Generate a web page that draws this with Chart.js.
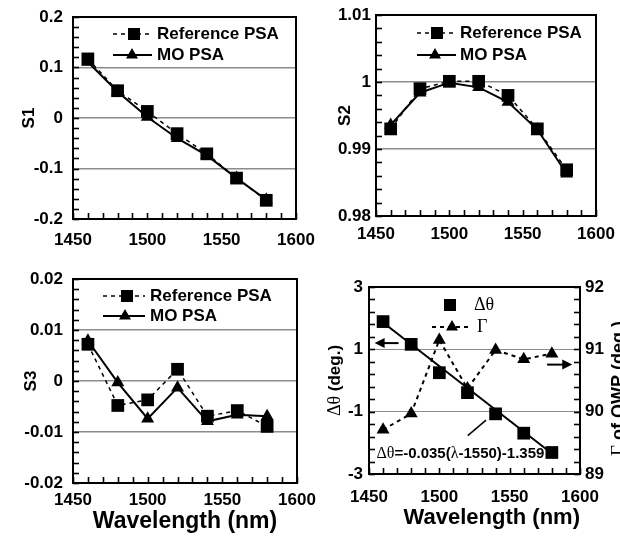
<!DOCTYPE html>
<html><head><meta charset="utf-8">
<script src="https://cdn.jsdelivr.net/npm/chart.js@4.4.1/dist/chart.umd.min.js"></script>
<style>
html,body{margin:0;padding:0;background:#fff;}
#wrap{position:relative;width:620px;height:537px;overflow:hidden;background:#fff;}
canvas{position:absolute;}
</style></head><body>
<div id="wrap">
<canvas id="c1" width="330" height="260" style="left:0;top:0"></canvas>
<canvas id="c2" width="310" height="260" style="left:310px;top:0"></canvas>
<canvas id="c3" width="330" height="277" style="left:0;top:260px"></canvas>
<canvas id="c4" width="310" height="277" style="left:310px;top:260px"></canvas>
</div>
<script>
// ---------- data ----------
const wavelengths = [1460, 1480, 1500, 1520, 1540, 1560, 1580];
const s1Reference = [0.117, 0.054, 0.013, -0.031, -0.071, -0.119, -0.163];
const s1MO        = [0.111, 0.052, 0.002, -0.040, -0.074, -0.119, -0.162];
const s2Reference = [0.9930, 0.9990, 1.0001, 1.0001, 0.9980, 0.9930, 0.9869];
const s2MO        = [0.9936, 0.9984, 0.9999, 0.9992, 0.9970, 0.9929, 0.9863];
const s3Reference = [0.0072, -0.0048, -0.0037, 0.0023, -0.0069, -0.0058, -0.0089];
const s3MO        = [0.0079, -0.0003, -0.0074, -0.0013, -0.0079, -0.0066, -0.0069];
const deltaTheta  = [1.89, 1.16, 0.25, -0.39, -1.07, -1.69, -2.31];
const gammaQWP    = [89.71, 89.97, 91.15, 90.37, 90.99, 90.84, 90.93];
const fitWavelengths = [1460, 1580];
const fitDeltaTheta  = [1.86, -2.34];

const xTickLabels      = [1450, 1500, 1550, 1600];
const s1TickLabels     = [-0.2, -0.1, 0, 0.1, 0.2];
const s2TickLabels     = [0.98, 0.99, 1, 1.01];
const s3TickLabels     = [-0.02, -0.01, 0, 0.01, 0.02];
const dThetaTickLabels = [-3, -1, 1, 3];
const gammaTickLabels  = [89, 90, 91, 92];

const xTitle = 'Wavelength (nm)';
const equationParts = [['Δθ', 'serif'], ['=-0.035(', 'sans'], ['λ', 'serif'], ['-1550)-1.359', 'sans']];
const leftTitleParts = [['Δθ', 'serif'], [' (deg.)', 'sans']];
const rightTitleParts = [['Γ', 'serif'], [' of QWP (deg.)', 'sans']];

// ---------- helpers ----------
const SANS = "'Liberation Sans', Arial, sans-serif";
const SERIF = "'Liberation Serif', 'Times New Roman', serif";
function near(v, list) { return list.find(t => Math.abs(t - v) < 1e-7); }
function fmt(v) { return String(Number(v.toFixed(6))); }
function pts(xs, ys) { return xs.map((x, i) => ({x: x, y: ys[i]})); }

function axis(o) {
  return {
    type: 'linear', position: o.position, min: o.min, max: o.max,
    afterBuildTicks(scale) {
      const t = []; const n = Math.round((o.max - o.min) / o.step);
      for (let i = 0; i <= n; i++) t.push({value: +(o.min + i * o.step).toFixed(10)});
      scale.ticks = t;
    },
    afterFit(scale) {
      if (o.width != null) scale.width = o.width;
      if (o.height != null) scale.height = o.height;
      scale.paddingLeft = 0; scale.paddingRight = 0; scale.paddingTop = 0; scale.paddingBottom = 0;
    },
    ticks: {
      autoSkip: false, maxRotation: 0, minRotation: 0, padding: o.pad, color: '#000',
      font: {family: SANS, size: 17, weight: 'bold'},
      callback(v) { const m = near(v, o.labels); return m === undefined ? '' : fmt(m); }
    },
    grid: {
      drawOnChartArea: !!o.gridMajor, drawTicks: false,
      lineWidth: o.gridWidth || 1.5,
      color(ctx) { const v = ctx.tick && ctx.tick.value; return (v !== undefined && near(v, o.labels) !== undefined) ? '#8c8c8c' : 'rgba(0,0,0,0)'; }
    },
    border: {display: false},
    title: o.title || {display: false}
  };
}

// frame around the plot
const framePlugin = {
  id: 'frame',
  beforeDatasetsDraw(chart) {
    const {ctx, chartArea: a} = chart;
    ctx.save(); ctx.strokeStyle = '#000'; ctx.lineWidth = 2; ctx.setLineDash([]);
    ctx.strokeRect(a.left, a.top, a.right - a.left, a.bottom - a.top);
    ctx.restore();
  },
  // inward tick marks at every scale tick
  afterDraw(chart) {
    const {ctx, chartArea: a} = chart;
    ctx.save(); ctx.strokeStyle = '#000'; ctx.lineWidth = 1.6; ctx.setLineDash([]);
    ['x', 'y', 'y1'].forEach(id => {
      const s = chart.scales[id];
      if (!s) return;
      const side = s.options.position;
      const list = s.getTicks ? s.getTicks() : s.ticks;
      list.forEach(t => {
        const p = Math.round(s.getPixelForValue(t.value)) + 0.5;
        ctx.beginPath();
        if (side === 'left') { ctx.moveTo(a.left, p); ctx.lineTo(a.left + 6, p); }
        else if (side === 'right') { ctx.moveTo(a.right, p); ctx.lineTo(a.right - 6, p); }
        else { ctx.moveTo(p, a.bottom); ctx.lineTo(p, a.bottom - 6); }
        ctx.stroke();
      });
    });
    ctx.restore();
  }
};

function drawMarker(ctx, style, x, y, size) {
  ctx.beginPath();
  if (style === 'rect') { ctx.rect(x - size / 2, y - size / 2, size, size); }
  else {
    const h = size * Math.sqrt(3) / 2;
    ctx.moveTo(x, y - h * 2 / 3); ctx.lineTo(x + size / 2, y + h / 3); ctx.lineTo(x - size / 2, y + h / 3); ctx.closePath();
  }
  ctx.fill();
}

function legendPlugin(items) {
  return {
    id: 'pairLegend',
    afterDatasetsDraw(chart) {
      const ctx = chart.ctx; ctx.save(); ctx.fillStyle = '#000'; ctx.strokeStyle = '#000';
      items.forEach(it => {
        const ds = chart.data.datasets[it.dataset];
        if (it.x1 !== undefined) {
          ctx.lineWidth = ds.borderWidth; ctx.setLineDash(ds.borderDash || []);
          ctx.beginPath(); ctx.moveTo(it.x0, it.y); ctx.lineTo(it.x1, it.y); ctx.stroke(); ctx.setLineDash([]);
        }
        drawMarker(ctx, ds.pointStyle, it.mx, it.y, it.size);
        ctx.font = it.font; ctx.textBaseline = 'middle'; ctx.textAlign = 'left';
        ctx.fillText(ds.label, it.tx, it.y);
      });
      ctx.restore();
    }
  };
}

function ds(label, xs, ys, style, dashed, extra) {
  return Object.assign({
    label: label, data: pts(xs, ys), showLine: true, borderColor: '#000', backgroundColor: '#000',
    borderWidth: dashed ? 1.5 : 2, borderDash: dashed ? [4, 4] : [], pointStyle: style,
    pointRadius: style === 'rect' ? 9 : 7.5, pointHoverRadius: style === 'rect' ? 9 : 7.5,
    pointBorderWidth: 0, tension: 0
  }, extra || {});
}

function stokesChart(id, refY, moY, yo, xo, pad, legendItems) {
  return new Chart(document.getElementById(id), {
    type: 'scatter',
    data: {datasets: [
      ds('Reference PSA', wavelengths, refY, 'rect', true, {order: 1}),
      ds('MO PSA', wavelengths, moY, 'triangle', false, {order: 2})
    ]},
    options: {
      responsive: false, animation: false, devicePixelRatio: 1,
      layout: {padding: pad},
      plugins: {legend: {display: false}, tooltip: {enabled: false}},
      scales: {x: axis(xo), y: axis(yo)}
    },
    plugins: [framePlugin, legendPlugin(legendItems)]
  });
}

const LF = 'bold 17px ' + SANS;
function legendRows(x0, x1, mx, tx, y1, y2) {
  return [
    {dataset: 0, x0: x0, x1: x1, mx: mx, tx: tx, y: y1, size: 12, font: LF},
    {dataset: 1, x0: x0, x1: x1, mx: mx - 2, tx: tx, y: y2, size: 12, font: LF}
  ];
}

// Panel S1
stokesChart('c1', s1Reference, s1MO,
  {position: 'left', min: -0.2, max: 0.2, step: 0.02, labels: s1TickLabels, width: 73, pad: 10, gridMajor: true,
   title: {display: true, text: 'S1', color: '#000', font: {family: SANS, size: 17, weight: 'bold'}, padding: {top: 19, bottom: 0}}},
  {position: 'bottom', min: 1450, max: 1600, step: 10, labels: xTickLabels, height: 41, pad: 11},
  {left: 0, top: 17, right: 34, bottom: 0},
  legendRows(113, 152, 134, 157, 34, 55));

// Panel S2
stokesChart('c2', s2Reference, s2MO,
  {position: 'left', min: 0.98, max: 1.01, step: 0.002, labels: s2TickLabels, width: 66, pad: 5, gridMajor: true,
   title: {display: true, text: 'S2', color: '#000', font: {family: SANS, size: 17, weight: 'bold'}, padding: {top: 25, bottom: 0}}},
  {position: 'bottom', min: 1450, max: 1600, step: 10, labels: xTickLabels, height: 44, pad: 8},
  {left: 0, top: 15, right: 24, bottom: 0},
  legendRows(107, 146, 127, 150, 33, 55));

// Panel S3
stokesChart('c3', s3Reference, s3MO,
  {position: 'left', min: -0.02, max: 0.02, step: 0.002, labels: s3TickLabels, width: 73, pad: 10, gridMajor: true,
   title: {display: true, text: 'S3', color: '#000', font: {family: SANS, size: 17, weight: 'bold'}, padding: {top: 21, bottom: 0}}},
  {position: 'bottom', min: 1450, max: 1600, step: 10, labels: xTickLabels, height: 54, pad: 7,
   title: {display: true, text: xTitle, color: '#000', font: {family: SANS, size: 23, weight: 'bold'}, padding: {top: 0, bottom: 2}}},
  {left: 0, top: 19, right: 33, bottom: 0},
  legendRows(103, 145, 127, 150, 36, 56));

// Panel 4: delta theta and Gamma
const annot = {
  equation: {x: 1455.3, y: -2.36},
  arrowLeft: {x0: 1471, x1: 1454, y: 1.2, axis: 'y'},
  arrowRight: {x0: 1576.6, x1: 1594.5, y: 90.755, axis: 'y1'},
  pointer: {x0: 1520.2, y0: -1.77, x1: 1533.2, y1: -1.27}
};

function drawRich(ctx, parts, x, y, sizeSans, sizeSerif, center) {
  const fonts = parts.map(p => p[1] === 'serif' ? (sizeSerif + 'px ' + SERIF) : ('bold ' + sizeSans + 'px ' + SANS));
  let total = 0; const ws = parts.map((p, i) => { ctx.font = fonts[i]; const w = ctx.measureText(p[0]).width; total += w; return w; });
  let cx = center ? x - total / 2 : x;
  parts.forEach((p, i) => { ctx.font = fonts[i]; ctx.fillText(p[0], cx, y); cx += ws[i]; });
}

function arrow(ctx, x0, y0, x1, y1) {
  const dir = Math.sign(x1 - x0);
  ctx.beginPath(); ctx.moveTo(x0, y0); ctx.lineTo(x1 - dir * 8, y1); ctx.stroke();
  ctx.beginPath(); ctx.moveTo(x1, y1); ctx.lineTo(x1 - dir * 10, y1 - 5); ctx.lineTo(x1 - dir * 10, y1 + 5); ctx.closePath(); ctx.fill();
}

const panel4Plugin = {
  id: 'panel4',
  afterDatasetsDraw(chart) {
    const ctx = chart.ctx, sx = chart.scales.x, sy = chart.scales.y, sy1 = chart.scales.y1;
    ctx.save(); ctx.fillStyle = '#000'; ctx.strokeStyle = '#000';
    // legend
    const d0 = chart.data.datasets[0], d2 = chart.data.datasets[2];
    drawMarker(ctx, 'rect', 140, 45, 12);
    ctx.textBaseline = 'middle'; ctx.textAlign = 'left';
    ctx.font = '18px ' + SERIF; ctx.fillText(d0.label, 164, 45);
    ctx.lineWidth = 2; ctx.setLineDash([4, 4]);
    ctx.beginPath(); ctx.moveTo(122, 67); ctx.lineTo(161, 67); ctx.stroke(); ctx.setLineDash([]);
    drawMarker(ctx, 'triangle', 142, 67, 12);
    ctx.font = '18px ' + SERIF; ctx.fillText(d2.label, 167, 67);
    // equation
    ctx.textBaseline = 'middle';
    drawRich(ctx, equationParts, sx.getPixelForValue(annot.equation.x), sy.getPixelForValue(annot.equation.y), 15, 16, false);
    // arrows
    ctx.lineWidth = 2;
    const al = annot.arrowLeft, ar = annot.arrowRight;
    arrow(ctx, sx.getPixelForValue(al.x0), sy.getPixelForValue(al.y), sx.getPixelForValue(al.x1), sy.getPixelForValue(al.y));
    arrow(ctx, sx.getPixelForValue(ar.x0), sy1.getPixelForValue(ar.y), sx.getPixelForValue(ar.x1), sy1.getPixelForValue(ar.y));
    const p = annot.pointer;
    ctx.lineWidth = 1.5;
    ctx.beginPath(); ctx.moveTo(sx.getPixelForValue(p.x0), sy.getPixelForValue(p.y0)); ctx.lineTo(sx.getPixelForValue(p.x1), sy.getPixelForValue(p.y1)); ctx.stroke();
    // axis titles
    const midY = (chart.chartArea.top + chart.chartArea.bottom) / 2;
    ctx.save(); ctx.translate(25, midY); ctx.rotate(-Math.PI / 2); ctx.textBaseline = 'middle';
    drawRich(ctx, leftTitleParts, 0, 0, 17, 18, true); ctx.restore();
    ctx.save(); ctx.translate(314, midY + 8); ctx.rotate(-Math.PI / 2); ctx.textBaseline = 'alphabetic';
    drawRich(ctx, rightTitleParts, 0, 0, 18, 19, true); ctx.restore();
    ctx.restore();
  }
};

new Chart(document.getElementById('c4'), {
  type: 'scatter',
  data: {datasets: [
    ds('Δθ', wavelengths, deltaTheta, 'rect', false, {showLine: false, order: 1}),
    ds('fit', fitWavelengths, fitDeltaTheta, 'rect', false, {pointRadius: 0, pointHoverRadius: 0, order: 2}),
    ds('Γ', wavelengths, gammaQWP, 'triangle', true, {yAxisID: 'y1', borderWidth: 2, order: 3})
  ]},
  options: {
    responsive: false, animation: false, devicePixelRatio: 1,
    layout: {padding: {left: 0, top: 27, right: 0, bottom: 0}},
    plugins: {legend: {display: false}, tooltip: {enabled: false}},
    scales: {
      x: axis({position: 'bottom', min: 1450, max: 1600, step: 10, labels: xTickLabels, height: 63, pad: 13,
        title: {display: true, text: xTitle, align: 'end', color: '#000', font: {family: SANS, size: 22, weight: 'bold'}, padding: {top: 0, bottom: 6}}}),
      y: axis({position: 'left', min: -3, max: 3, step: 0.4, labels: dThetaTickLabels, width: 59, pad: 6, gridMajor: true, gridWidth: 1}),
      y1: axis({position: 'right', min: 89, max: 92, step: 0.2, labels: gammaTickLabels, width: 40, pad: 5})
    }
  },
  plugins: [framePlugin, panel4Plugin]
});
</script>
</body></html>
